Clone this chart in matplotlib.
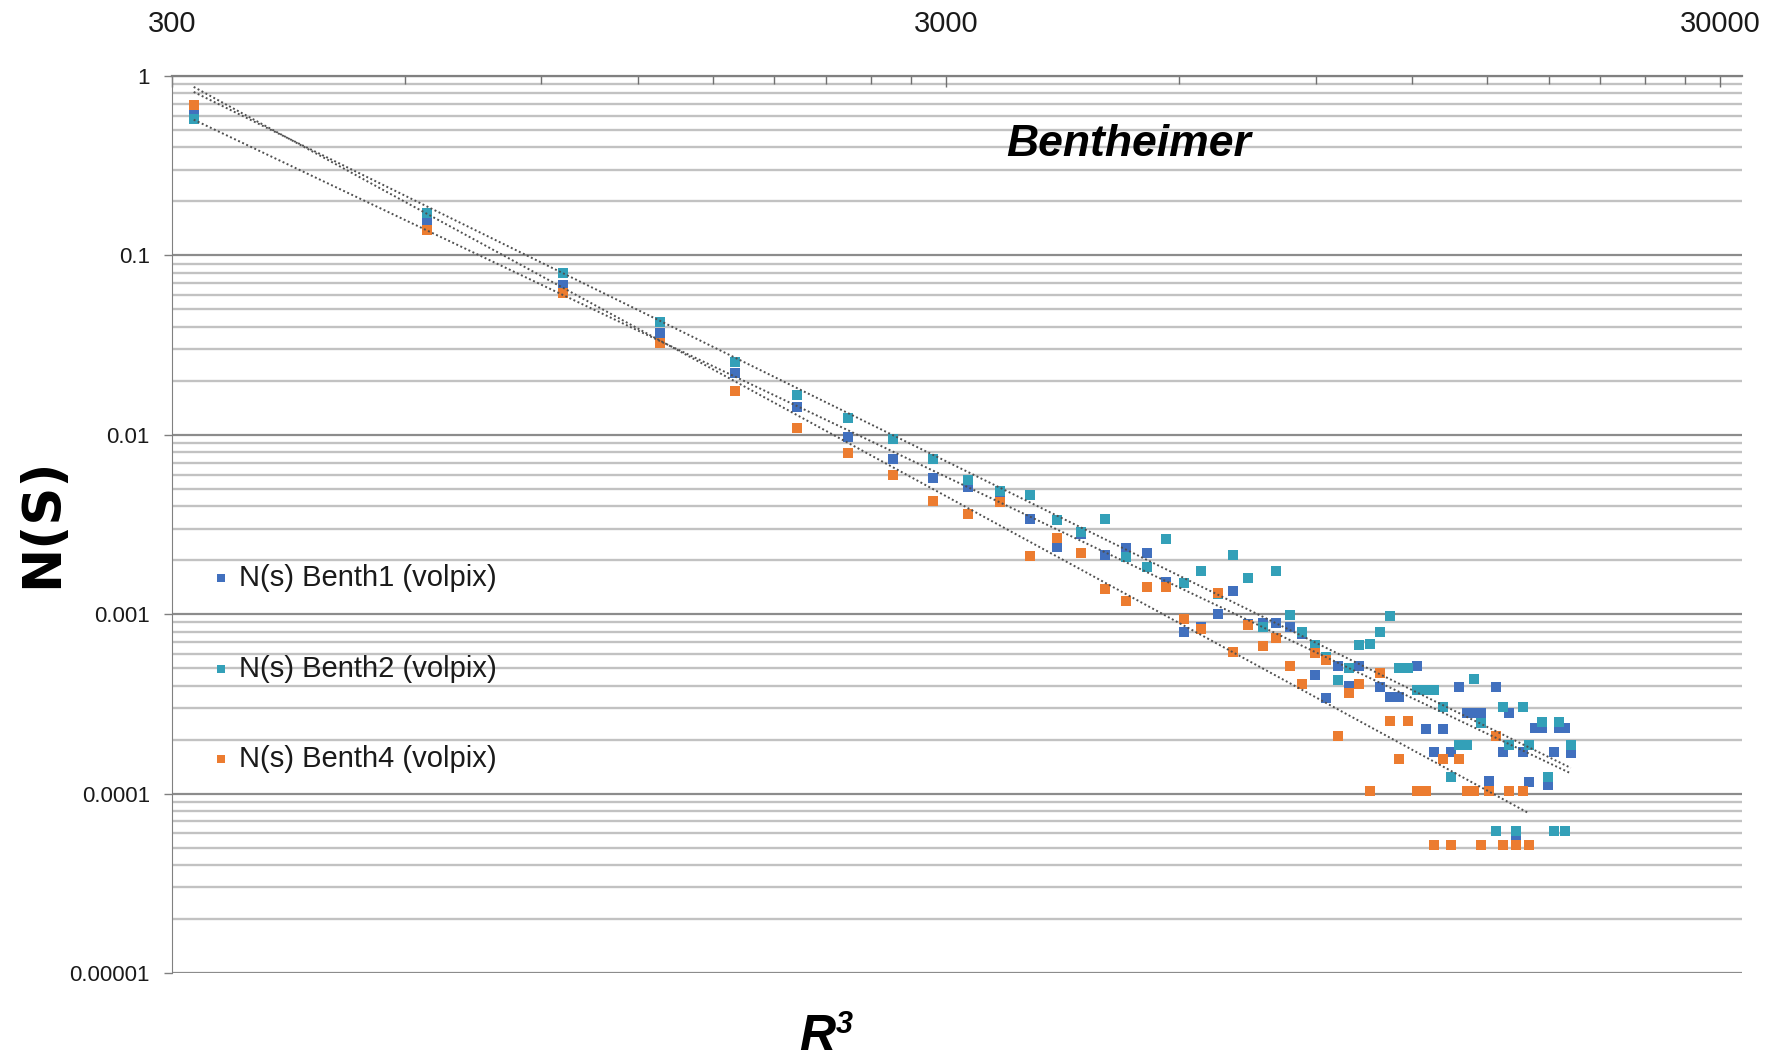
import matplotlib
matplotlib.use("Agg")
import matplotlib.pyplot as plt
import numpy as np
from matplotlib.ticker import FixedLocator, FixedFormatter, NullFormatter

NAN = np.nan

# R^3 bin centres (voxels)
r3 = np.array([
    320, 641, 961, 1282, 1602, 1923, 2243, 2564, 2884, 3205,
    3525, 3846, 4166, 4487, 4807, 5128, 5448, 5769, 6089, 6410,
    6730, 7051, 7371, 7692, 8012, 8333, 8653, 8974, 9294, 9615,
    9935, 10256, 10576, 10897, 11217, 11538, 11858, 12179, 12499, 12820,
    13140, 13461, 13781, 14102, 14422, 14743, 15063, 15384, 15704, 16025,
    16345, 16666, 16986, 17307, 17627, 17948, 18268, 18589, 18909, 19230,
], dtype=float)

ns_benth1 = np.array([
    0.61, 0.157, 0.0684, 0.0368, 0.022, 0.0142, 0.00976, 0.0073, 0.00577, 0.00514,
    0.0045, 0.0034, 0.00238, 0.0028, 0.00213, 0.00233, 0.0022, 0.00152, 0.0008, 0.00085,
    0.001, 0.00135, 0.00088, 0.00089, 0.00089, 0.000845, 0.00078, 0.000458, 0.00034, 0.000514,
    0.0004, 0.000514, 0.00068, 0.000394, 0.000347, 0.000347, NAN, 0.000514, 0.000228, 0.00017,
    0.000228, 0.00017, 0.000394, 0.000281, 0.000281, 0.000281, 0.000117, 0.000394, 0.00017, 0.000281,
    0.000057, 0.00017, 0.000116, 0.000231, 0.000231, 0.000112, 0.00017, 0.000231, 0.000231, 0.000169,
])

ns_benth2 = np.array([
    0.574, 0.172, 0.0795, 0.0427, 0.0256, 0.0167, 0.0124, 0.00944, 0.0073, 0.0056,
    0.00488, 0.00462, 0.00335, 0.00288, 0.0034, 0.00209, 0.00184, 0.00262, 0.00149, 0.00175,
    0.0013, 0.00214, 0.0016, 0.00085, 0.00175, 0.00099, 0.000793, 0.000674, 0.00058, 0.00043,
    0.000499, 0.000674, 0.00068, 0.0008, 0.000977, 0.000499, 0.000499, 0.000378, 0.000378, 0.000378,
    0.000305, 0.000124, 0.000187, 0.000187, 0.000434, 0.000248, NAN, 0.000062, 0.000305, 0.000187,
    0.000062, 0.000305, 0.000187, NAN, 0.000252, 0.000124, 0.000062, 0.000252, 0.000062, 0.000187,
])

ns_benth4 = np.array([
    0.689, 0.139, 0.0615, 0.0324, 0.0176, 0.0109, 0.00794, 0.00597, 0.0043, 0.00362,
    0.0042, 0.00212, 0.00265, 0.0022, 0.00138, 0.00119, 0.00142, 0.00142, 0.000936, 0.000824,
    0.00131, 0.000613, 0.000867, 0.000665, 0.000734, 0.000514, 0.000408, 0.00061, 0.000556, 0.00021,
    0.000362, 0.000408, 0.000104, 0.000468, 0.000255, 0.000155, 0.000255, 0.000104, 0.000104, 0.000052,
    0.000155, 0.000052, 0.000155, 0.000104, 0.000104, 0.000052, 0.000104, 0.00021, 0.000052, 0.000104,
    0.000052, 0.000104, 0.000052, NAN, NAN, NAN, NAN, NAN, NAN, NAN,
])

series_labels = ["N(s) Benth1 (volpix)", "N(s) Benth2 (volpix)", "N(s) Benth4 (volpix)"]
series_colors = ["#4170BE", "#33A0B8", "#EC7C30"]

y_ticks = [1e-5, 1e-4, 1e-3, 1e-2, 1e-1, 1]
y_tick_labels = ["0.00001", "0.0001", "0.001", "0.01", "0.1", "1"]
x_ticks = [300, 3000, 30000]
x_tick_labels = ["300", "3000", "30000"]

SANS = ["Liberation Sans", "DejaVu Sans"]


def power_fit(x, y):
    """Least-squares fit of y = a * x**b in log space, like a spreadsheet power trendline."""
    ok = np.isfinite(y)
    b, ln_a = np.polyfit(np.log(x[ok]), np.log(y[ok]), 1)
    xs = np.geomspace(x[ok].min(), x[ok].max(), 200)
    return xs, np.exp(ln_a) * xs ** b


fig = plt.figure(figsize=(17.74, 10.57), dpi=100)
ax = fig.add_axes([172 / 1774, 1 - 973 / 1057, 1570 / 1774, 897 / 1057])
ax.set_xscale("log")
ax.set_yscale("log")
ax.set_xlim(300, 32000)
ax.set_ylim(1e-5, 1)

# horizontal grid at every decade step
for d in range(-5, 1):
    ax.axhline(10.0 ** d, color="#8c8c8c", lw=1.6, zorder=1)
    if d < 0:
        for m in range(2, 10):
            ax.axhline(m * 10.0 ** d, color="#c2c2c2", lw=1.7, zorder=1)

all_series = [ns_benth1, ns_benth2, ns_benth4]
for ys, color in zip(all_series, series_colors):
    ax.plot(r3, ys, linestyle="none", marker="s", ms=6.5, color=color,
            markeredgewidth=0, zorder=3)

for ys in all_series:
    xs, fit = power_fit(r3, ys)
    ax.plot(xs, fit, color="#505050", lw=1.4, linestyle=(0, (1, 1.3)), zorder=4)

# axes styling: x axis on top, y axis on the left
for side in ("right", "bottom"):
    ax.spines[side].set_visible(False)
ax.spines["left"].set_color("#808080")
ax.spines["top"].set_color("#808080")
ax.spines["top"].set_linewidth(1.6)

ax.xaxis.tick_top()
ax.xaxis.set_major_locator(FixedLocator(x_ticks))
ax.xaxis.set_major_formatter(FixedFormatter(x_tick_labels))
ax.xaxis.set_minor_locator(FixedLocator([300 * m * d for d in (1, 10) for m in range(2, 10)]))
ax.xaxis.set_minor_formatter(NullFormatter())
ax.tick_params(axis="x", which="major", direction="in", length=8, width=1,
               color="#707070", pad=27, labelsize=21, labelcolor="#1a1a1a")
ax.tick_params(axis="x", which="minor", direction="in", length=6, width=1, color="#707070")
for lbl in ax.get_xticklabels():
    lbl.set_family(SANS)

ax.yaxis.set_major_locator(FixedLocator(y_ticks))
ax.yaxis.set_major_formatter(FixedFormatter(y_tick_labels))
ax.yaxis.set_minor_locator(FixedLocator([]))
ax.tick_params(axis="y", which="major", direction="out", length=6, width=1,
               color="#808080", pad=10, labelsize=16, labelcolor="#1a1a1a")
for lbl in ax.get_yticklabels():
    lbl.set_family(SANS)

# legend drawn inside the plot area
legend_rows = [0.4404, 0.339, 0.2386]
for label, color, yr in zip(series_labels, series_colors, legend_rows):
    ax.plot([0.031], [yr], transform=ax.transAxes, marker="s", ms=5.5,
            color=color, markeredgewidth=0, linestyle="none", zorder=5, clip_on=False)
    ax.text(0.0427, yr, label, transform=ax.transAxes, ha="left", va="center",
            fontsize=21, family=SANS, color="#1a1a1a", zorder=5)

fig.text(1129 / 1774, 1 - 145 / 1057, "Bentheimer", ha="center", va="center",
         fontsize=32, fontweight="bold", fontstyle="italic", family=SANS)
fig.text(42 / 1774, 1 - 523 / 1057, "N(S)", ha="center", va="center", rotation=90,
         fontsize=38, fontweight="bold", family="DejaVu Sans")

# x axis title R^3 set as a bold italic R with a raised 3
fig.text(835 / 1774, 1 - 1050 / 1057, "R", ha="right", va="baseline",
         fontsize=36, fontweight="bold", fontstyle="italic", family=SANS)
fig.text(836 / 1774, 1 - 1033 / 1057, "3", ha="left", va="baseline",
         fontsize=22, fontweight="bold", fontstyle="italic", family=SANS)

fig.savefig("out.png", dpi=100, facecolor="white")
plt.close(fig)
